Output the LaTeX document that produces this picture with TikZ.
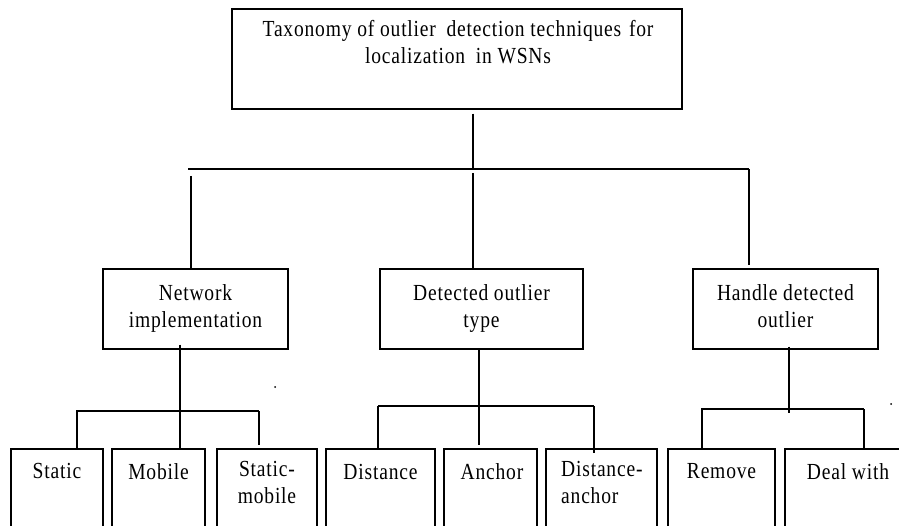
\documentclass[tikz,border=0pt]{standalone}
\usepackage{fontspec}
\setmainfont{Liberation Serif}[LetterSpace=3.5,FakeStretch=0.85]
\begin{document}
\begin{tikzpicture}[x=1pt,y=-1pt,
  box/.style={draw, line width=1.3pt, rectangle, inner sep=0pt},
  txt/.style={inner sep=0pt, align=center, font=\fontsize{23}{27}\selectfont},
  conn/.style={line width=1.3pt},
  bus/.style={line width=1.7pt}]
\useasboundingbox (0,0) rectangle (899,526);
\clip (0,0) rectangle (899,526);
% top box
\node[box, minimum width=450pt, minimum height=100pt] (top) at (457,59) {};
\node[txt, anchor=north] (toptxt) at (458,20) {Taxonomy of outlier\hspace{5pt} detection techniques\hspace{2pt} for\\localization\hspace{5pt} in WSNs};
% middle boxes
\node[box, minimum width=185pt, minimum height=80pt] (net) at (195.5,309) {};
\node[txt, anchor=north] (nettxt) at (195.5,284) {Network\\implementation};
\node[box, minimum width=203pt, minimum height=80pt] (det) at (481.5,309) {};
\node[txt, anchor=north] (dettxt) at (481.5,284) {Detected outlier\\type};
\node[box, minimum width=185pt, minimum height=80pt] (han) at (785.5,309) {};
\node[txt, anchor=north] (hantxt) at (785.5,284) {Handle detected\\outlier};
% bottom boxes (cut off at the bottom edge)
\node[box, minimum width=92pt, minimum height=100pt] (sta) at (57,499) {};
\node[box, minimum width=93pt, minimum height=100pt] (mob) at (158.5,499) {};
\node[box, minimum width=100pt, minimum height=100pt] (stm) at (267,499) {};
\node[box, minimum width=109pt, minimum height=100pt] (dis) at (380.5,499) {};
\node[box, minimum width=93pt, minimum height=100pt] (anc) at (490.5,499) {};
\node[box, minimum width=111pt, minimum height=100pt] (dan) at (601.5,499) {};
\node[box, minimum width=107pt, minimum height=100pt] (rem) at (721.5,499) {};
\node[box, minimum width=140pt, minimum height=100pt] (dea) at (855,499) {};
\node[txt, anchor=north] (statxt) at (57,463) {Static};
\node[txt, anchor=north] (mobtxt) at (158.5,463) {Mobile};
\node[txt, anchor=north] (stmtxt) at (267,461) {Static-\\mobile};
\node[txt, anchor=north] (distxt) at (380.5,464) {Distance};
\node[txt, anchor=north] (anctxt) at (492,463) {Anchor};
\node[txt, anchor=north west, align=left] (dantxt) at (561,461) {Distance-\\anchor};
\node[txt, anchor=north] (remtxt) at (721.5,463) {Remove};
\node[txt, anchor=north] (deatxt) at (848,463) {Deal with};
% level 1 connectors
\coordinate (b1l) at (188,169);
\coordinate (b1r) at (749,169);
\coordinate (b1m) at (473,169);
\draw[bus] (b1l) -- (b1r);
\draw[conn] (top.south -| b1m) ++(0,4) -- (b1m);
\draw[conn] (191,176) -- (net.north -| 191,0);
\draw[conn] (473,173) -- (det.north -| 473,0);
\draw[conn] (b1r) -- ([yshift=3pt]han.north -| b1r);
% network group
\coordinate (b2l) at (76,411);
\coordinate (b2r) at (259,411);
\draw[conn] (b2l) -- (b2r);
\draw[conn] ([yshift=5pt]net.south -| 180,0) -- (mob.north -| 180,0);
\draw[conn] (77,411) -- (sta.north -| 77,0);
\draw[conn] (b2r) -- ([yshift=3pt]stm.north -| b2r);
% detected group
\coordinate (b3l) at (378,406);
\coordinate (b3r) at (594,406);
\draw[conn] (b3l) -- (b3r);
\draw[conn] (det.south -| 479,0) -- ([yshift=3pt]anc.north -| 479,0);
\draw[conn] (b3l) -- (dis.north -| b3l);
\draw[conn] (b3r) -- ([yshift=-5pt]dan.north -| b3r);
% handle group
\coordinate (b4l) at (701,409);
\coordinate (b4r) at (864,409);
\draw[conn] (b4l) -- (b4r);
\draw[conn] ([yshift=3pt]han.south -| 789,0) -- (789,413);
\draw[conn] (702,409) -- ([yshift=-2pt]rem.north -| 702,0);
\draw[conn] (b4r) -- (dea.north -| b4r);
% stray dots
\fill (275,387) circle (1pt);
\fill (891,404) circle (1pt);
\end{tikzpicture}
\end{document}
